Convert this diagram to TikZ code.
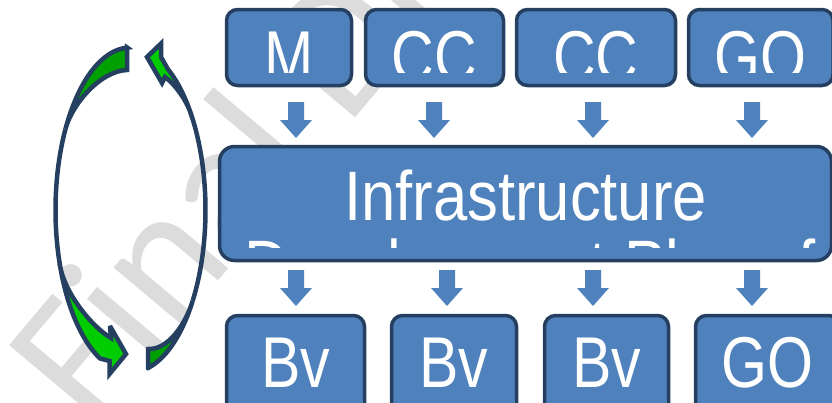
\documentclass[tikz,border=0pt]{standalone}
\usepackage{fontspec}
\newfontfamily\boxfont[FakeStretch=0.82]{Liberation Sans}
\newfontfamily\wideboxfont[FakeStretch=0.88]{Liberation Sans}
\newfontfamily\markfont{Carlito}
\definecolor{boxfill}{HTML}{4F81BD}
\definecolor{boxline}{HTML}{243F60}
\definecolor{tailgreen}{HTML}{00A000}
\definecolor{headgreen}{HTML}{00CC00}
\definecolor{markgray}{HTML}{DCDCDC}

\begin{document}
\begin{tikzpicture}[x=1pt,y=-1pt,
  box/.style={draw=boxline, line width=3.5pt, fill=boxfill, rounded corners=11pt, inner sep=0pt},
  bigbox/.style={box, rounded corners=15pt},
  boxtext/.style={text=white, font=\boxfont\fontsize{72}{72}\selectfont, anchor=base, inner sep=0pt},
  bigtext/.style={text=white, font=\wideboxfont\fontsize{70}{70}\selectfont, anchor=base, inner sep=0pt},
  cyc/.style={draw=boxline, line width=4.5pt, line join=miter, miter limit=4},
  dnarrow/.pic={\fill[boxfill] (-8,0) -- (8,0) -- (8,18) -- (16,18) -- (0,36) -- (-16,18) -- (-8,18) -- cycle;}
]
\clip (0,0) rectangle (832,402);

% watermark
\node[text=markgray, font=\markfont\fontsize{185}{185}\selectfont, rotate=50,
      anchor=base west, inner sep=0pt] (mark) at (92,432) {Final Draft};

% cycle arrows on the left
\draw[cyc, fill=tailgreen] (127,47.5)
  -- plot[domain=-92.5:-150, samples=30] ({130.5+75*cos(\x)},{210+162.5*sin(\x)})
  .. controls (72,104.5) and (100,71) .. (127,70) -- cycle;
\draw[cyc] plot[domain=-150:-200, samples=30] ({130.5+75*cos(\x)},{210+162.5*sin(\x)});
\draw[cyc, fill=headgreen]
  plot[domain=-200:-246, samples=30] ({130.5+75*cos(\x)},{210+162.5*sin(\x)})
  -- (109.5,361) -- (109.5,374) -- (126,354) -- (110,326) -- (111,338)
  .. controls (92,327) and (64.6,293.2) .. (60,265.6) -- cycle;

\draw[cyc, fill=tailgreen] (148,368)
  -- plot[domain=76.5:34, samples=30] ({130.5+75*cos(\x)},{210+162.5*sin(\x)})
  .. controls (185.3,324.8) and (168,350) .. (148,349) -- cycle;
\draw[cyc] plot[domain=34:-37, samples=30] ({130.5+75*cos(\x)},{210+162.5*sin(\x)});
\draw[cyc, fill=headgreen]
  plot[domain=-37:-60, samples=20] ({130.5+75*cos(\x)},{210+162.5*sin(\x)})
  -- (161,57) -- (161,43.5) -- (147,57) -- (162,83) -- (165,77)
  .. controls (176,85) and (186.4,100.9) .. (190.4,112.2) -- cycle;

% top row
\node[box, minimum width=125pt, minimum height=76pt] (m) at (289,47.5) {};
\node[box, minimum width=138pt, minimum height=76pt] (cc1) at (434.5,47.5) {};
\node[box, minimum width=159pt, minimum height=76pt] (cc2) at (596,47.5) {};
\node[box, minimum width=144.5pt, minimum height=76pt] (go1) at (760.75,47.5) {};

\coordinate (topbase) at (0,81);
\begin{scope}
  \clip (0,0) rectangle (832,72);
  \node[boxtext] (mt) at (m |- topbase) {M};
  \node[boxtext] (cc1t) at (cc1 |- topbase) {CC};
  \node[boxtext] (cc2t) at (cc2 |- topbase) {CC};
  \node[boxtext] (go1t) at (go1 |- topbase) {GO};
\end{scope}

% arrows into the plan
\coordinate (ta1) at (296,102);
\coordinate (ta2) at (434,102);
\coordinate (ta3) at (593,102);
\coordinate (ta4) at (752,102);
\foreach \c in {ta1,ta2,ta3,ta4} \pic at (\c) {dnarrow};

% central plan
\node[bigbox, minimum width=612pt, minimum height=114pt] (plan) at (525.5,203.5) {};
\begin{scope}
  \clip (0,146) rectangle (832,247);
  \node[bigtext] (plan1) at (525.5,220) {Infrastructure};
  \node[bigtext] (plan2) at (530,289) {Development Plan of};
\end{scope}

% arrows out of the plan
\coordinate (ba1) at (296,270);
\coordinate (ba2) at (447,270);
\coordinate (ba3) at (593,270);
\coordinate (ba4) at (752,270);
\foreach \c in {ba1,ba2,ba3,ba4} \pic at (\c) {dnarrow};

% bottom row
\node[box, minimum width=138pt, minimum height=104.5pt] (bv1) at (295.5,367.75) {};
\node[box, minimum width=125pt, minimum height=104.5pt] (bv2) at (454,367.75) {};
\node[box, minimum width=124pt, minimum height=104.5pt] (bv3) at (606.5,367.75) {};
\node[box, minimum width=144.5pt, minimum height=104.5pt] (go2) at (767.75,367.75) {};

\coordinate (botbase) at (0,387);
\node[boxtext] (bv1t) at (bv1 |- botbase) {Bv};
\node[boxtext] (bv2t) at (bv2 |- botbase) {Bv};
\node[boxtext] (bv3t) at (bv3 |- botbase) {Bv};
\node[boxtext] (go2t) at (go2 |- botbase) {GO};
\end{tikzpicture}
\end{document}
